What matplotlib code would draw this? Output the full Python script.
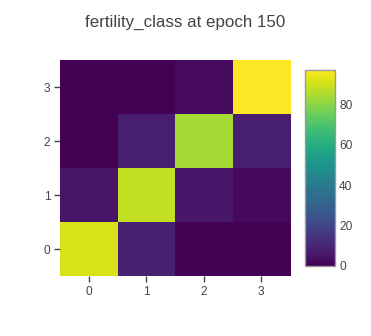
import numpy as np
import matplotlib.pyplot as plt

# confusion matrix values (rows = y 0..3, cols = x 0..3)
x_labels = ['0', '1', '2', '3']
y_labels = ['0', '1', '2', '3']
row0 = [91, 9, 0, 0]
row1 = [5, 88, 6, 2]
row2 = [0, 8, 84, 8]
row3 = [0, 0, 3, 97]
z = np.array([row0, row1, row2, row3])

plt.rcParams['font.family'] = ['Liberation Sans', 'DejaVu Sans']

fig = plt.figure(figsize=(3.71, 3.36), dpi=100)
ax = fig.add_axes([60 / 371, 60 / 336, 230 / 371, 216 / 336])
im = ax.imshow(z, cmap='viridis', origin='lower', aspect='auto',
               vmin=0, vmax=z.max(), interpolation='nearest')
ax.set_xticks(range(len(x_labels)))
ax.set_xticklabels(x_labels)
ax.set_yticks(range(len(y_labels)))
ax.set_yticklabels(y_labels)
for s in ax.spines.values():
    s.set_visible(False)
ax.tick_params(colors='#444444', labelsize=8.6, length=4, width=1, pad=3)
ax.tick_params(axis='x', colors='#444444', labelcolor='#444444')
for t in ax.get_xticklines() + ax.get_yticklines():
    t.set_color('#999999')

cax = fig.add_axes([305 / 371, 70 / 336, 30 / 371, 196 / 336])
cb = fig.colorbar(im, cax=cax, ticks=[0, 20, 40, 60, 80])
cb.outline.set_edgecolor('#999999')
cb.outline.set_linewidth(1)
cax.tick_params(length=0, labelsize=8.6, labelcolor='#444444', pad=3)

fig.text(185 / 371, 1 - 22 / 336, 'fertility_class at epoch 150',
         ha='center', va='center', fontsize=12.2, color='#444444')

plt.savefig('out.png', dpi=100)
